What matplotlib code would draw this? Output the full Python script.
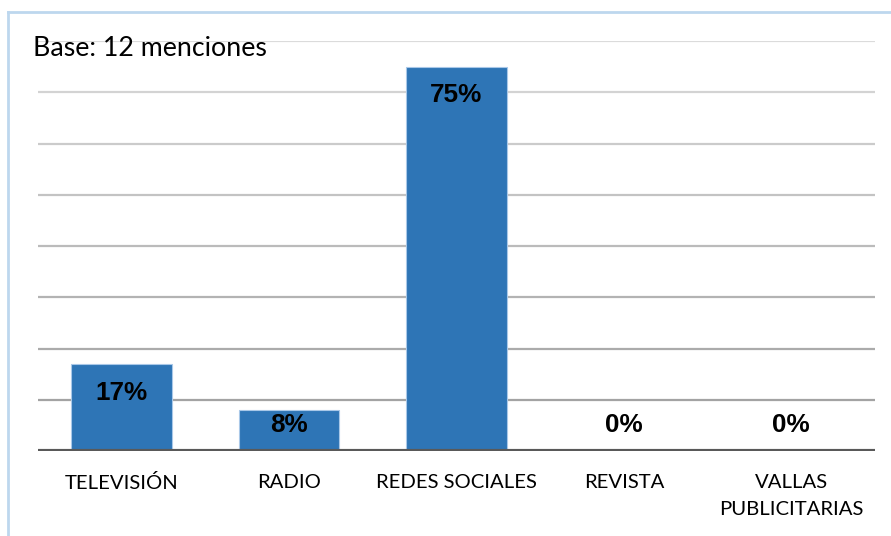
import matplotlib
matplotlib.use("Agg")
import matplotlib.pyplot as plt
from matplotlib.lines import Line2D
import numpy as np

categories = ["TELEVISIÓN", "RADIO", "REDES SOCIALES", "REVISTA", "VALLAS\nPUBLICITARIAS"]
values = [17, 8, 75, 0, 0]
value_labels = ["17%", "8%", "75%", "0%", "0%"]
grid_values = [10, 20, 30, 40, 50, 60, 70, 80]
base_text = "Base: 12 menciones"

W, H = 891, 536
fig = plt.figure(figsize=(W / 100, H / 100), dpi=100)
fig.patch.set_facecolor("white")

ax = fig.add_axes([38 / W, 1 - 451 / H, (875 - 38) / W, (451 - 41) / H])
ax.set_xlim(-0.5, len(categories) - 0.5)
ax.set_ylim(0, 80)
for s in ax.spines.values():
    s.set_visible(False)
ax.set_yticks([])
ax.set_xticks([])

# horizontal gridlines, lighter towards the top
greys = np.linspace(0.64, 0.86, len(grid_values))
for g, c in zip(grid_values, greys):
    ax.axhline(g, color=(c, c, c), lw=1.6, zorder=0)

x = np.arange(len(categories))
ax.bar(x, values, width=0.6, color="#2E75B6", edgecolor="#a9c8e8", linewidth=0.8, zorder=2)

# category axis line
ax.axhline(0, color="#595959", lw=3, zorder=3, solid_capstyle="butt")

for xi, v, lab in zip(x, values, value_labels):
    y = max(v - 5.6, 5.1)
    ax.text(xi, y, lab, ha="center", va="center", fontsize=18.8,
            fontweight="bold", family="Liberation Sans", color="black", zorder=4)

for xi, cat in zip(x, categories):
    ax.text(xi, -4.5, cat, ha="center", va="top", fontsize=14.6, family="Lato",
            color="black", linespacing=1.7, clip_on=False)

fig.text(33 / W, 1 - 48 / H, base_text, ha="left", va="center", fontsize=19.3,
         family="Lato", color="black")

# chart frame
frame = "#bdd7ee"
fig.add_artist(Line2D([8 / W, 8 / W], [0, 1 - 12 / H], color=frame, lw=2, transform=fig.transFigure))
fig.add_artist(Line2D([8 / W, 1], [1 - 12 / H, 1 - 12 / H], color=frame, lw=2, transform=fig.transFigure))

fig.savefig("out.png", dpi=100, facecolor="white")
